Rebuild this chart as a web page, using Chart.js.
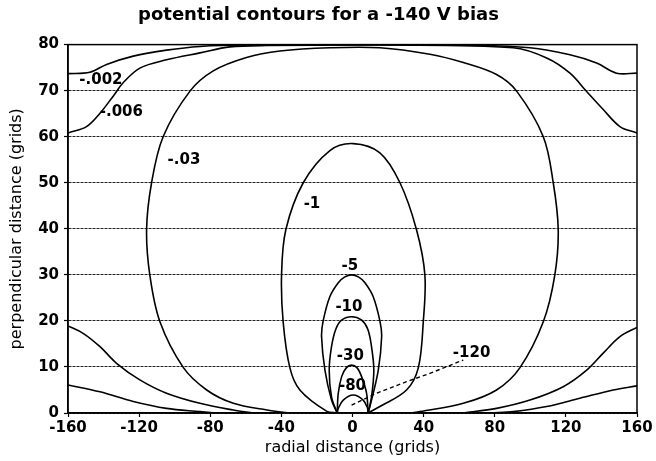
<!DOCTYPE html>
<html lang="en">
<head>
  <meta charset="UTF-8" />
  <title>potential contours for a -140 V bias</title>
  <style>
    body {
      margin: 0;
      padding: 0;
      background: #fff;
    }
    #wrap {
      width: 656px;
      height: 461px;
    }
  </style>
</head>
<body>
  <div id="wrap"><canvas id="contours" width="656" height="461"></canvas></div>

  <script src="https://cdn.jsdelivr.net/npm/chart.js"></script>
  <script>
    // contour pieces, [radial, perpendicular] in grids
    const c002Top = [[-160, 73.7], [-147.7, 74], [-138.3, 75.7], [-123.3, 77.5], [-104.6, 78.8], [-85.8, 79.6], [-60, 79.9], [60, 79.9], [99.8, 79.3], [122.3, 77.8], [137.3, 76], [148.5, 73.8], [160, 73.8]];
    const c006Top = [[-160, 60.8], [-149.6, 62.2], [-142, 65.1], [-134.6, 68.8], [-129, 71.7], [-119.6, 74.9], [-104.6, 76.7], [-85.8, 78.2], [-68.9, 79.5], [-48.3, 79.8], [20, 79.9], [90.4, 79.3], [109.2, 77.1], [122.3, 73.8], [131.7, 69.8], [141, 65.9], [150.4, 62.2], [160, 60.8]];
    const c002LowLeft = [[-160, 6.1], [-142, 4.6], [-123.3, 2.5], [-104.6, 1], [-85.8, 0.3], [-77, 0]];
    const c006LowLeft = [[-160, 18.9], [-151.5, 17.3], [-142, 14.4], [-132.7, 10.8], [-119.6, 7.2], [-104.6, 4.3], [-85.8, 2.1], [-67.1, 0.65], [-55.8, 0]];
    const c002LowRight = [[78, 0], [90.4, 0.3], [109.2, 1.4], [127.9, 3.2], [146.6, 5], [160, 5.9]];
    const c006LowRight = [[62.3, 0], [81, 1], [99.8, 2.8], [118.5, 5.7], [131.7, 9.3], [141, 13], [150.4, 16.6], [160, 18.6]];
    const c03 = [[-36, 0], [-48, 0.65], [-67, 2.1], [-82, 5], [-95.2, 9.9], [-108.3, 19.8], [-114, 30], [-115.8, 39.8], [-113, 50], [-106.5, 60], [-91.4, 69.9], [-78.3, 74.3], [-59.6, 77.2], [-40.8, 78.6], [-12.7, 79.3], [15.4, 79.3], [43.5, 77.9], [62.3, 76.1], [81, 73.5], [92.3, 69.9], [107.3, 60], [112.9, 50], [115.7, 39.8], [113.8, 30], [107.3, 19.8], [94.1, 9.8], [81, 5], [62.3, 2.1], [37.9, 0.3], [33, 0]];
    const c1 = [[-8.6, 0], [-14.6, 0.4], [-29.6, 5], [-35.2, 9.8], [-39, 19.8], [-39.9, 30], [-37.5, 39.8], [-27.7, 50], [-12.7, 57], [0.4, 58.5], [15.4, 56.5], [26.7, 50], [36, 39.8], [40.7, 30], [39.8, 19.8], [37, 9.8], [30.4, 5], [15.4, 1.4], [8.8, 0]];
    const c5 = [[-8.6, 0], [-11.8, 2.8], [-15.5, 9.3], [-17.4, 16.6], [-16.5, 20], [-12.7, 25.3], [-8, 28.3], [-4.5, 29.5], [-0.5, 30], [3.5, 29.5], [7, 28.3], [11.6, 25.3], [15.4, 20], [16.4, 16.6], [14.5, 9.3], [10.7, 2.8], [8.8, 0]];
    const c10 = [[-8.6, 0], [-11.8, 3.5], [-13.1, 9.3], [-11.8, 14.4], [-9.4, 18.2], [-6, 20.2], [-0.5, 20.9], [5, 20.2], [8.6, 18.2], [10.7, 14.4], [12, 9.3], [10.7, 3.5], [8.8, 0]];
    const c30 = [[-8.6, 0], [-8, 4.3], [-6.1, 7.9], [-3.5, 9.8], [-0.5, 10.4], [2.6, 9.8], [5.1, 7.9], [7.9, 4.3], [8.8, 0]];
    const c80 = [[-8.6, 0], [-8, 1], [-5.2, 2.8], [0.4, 3.9], [6, 2.8], [8.5, 1], [8.8, 0]];
    const c120Leader = [[-0.5, 1.7], [13.6, 4.3], [30.4, 6.8], [43.5, 8.6], [62.3, 11.5]];

    // contour value labels
    const labelText = ["-.002", "-.006", "-.03", "-1", "-5", "-10", "-30", "-80", "-120"];
    const labelX = [-141.5, -130, -94.8, -22.8, -1.5, -2, -1.2, 0, 67];
    const labelY = [72.2, 65.4, 55, 45.4, 32, 23, 12.3, 5.8, 13];

    const xTicks = [-160, -120, -80, -40, 0, 40, 80, 120, 160];
    const yTicks = [0, 10, 20, 30, 40, 50, 60, 70, 80];

    const FONT = "'DejaVu Sans', sans-serif";

    function linea(pts, dashed) {
      return {
        data: pts.map(p => ({ x: p[0], y: p[1] })),
        showLine: true,
        borderColor: "#000",
        borderWidth: dashed ? 1.4 : 1.6,
        borderDash: dashed ? [4, 3] : [],
        pointRadius: 0,
        tension: dashed ? 0 : 0.35,
        fill: false,
      };
    }

    const etiquetas = {
      id: "etiquetas",
      afterDatasetsDraw(chart) {
        const { ctx, scales } = chart;
        ctx.save();
        ctx.font = "bold 15px " + FONT;
        ctx.fillStyle = "#000";
        ctx.textAlign = "center";
        ctx.textBaseline = "middle";
        labelText.forEach((t, i) => {
          ctx.fillText(t, scales.x.getPixelForValue(labelX[i]), scales.y.getPixelForValue(labelY[i]));
        });
        // frame round the plot
        const a = chart.chartArea;
        ctx.strokeStyle = "#000";
        ctx.lineWidth = 1.5;
        ctx.strokeRect(a.left, a.top, a.right - a.left, a.bottom - a.top);
        ctx.restore();
      },
    };

    const ctx = document.getElementById("contours").getContext("2d");
    new Chart(ctx, {
      type: "scatter",
      data: {
        datasets: [
          linea(c002Top), linea(c006Top),
          linea(c002LowLeft), linea(c006LowLeft),
          linea(c002LowRight), linea(c006LowRight),
          linea(c03), linea(c1), linea(c5), linea(c10), linea(c30), linea(c80),
          linea(c120Leader, true),
        ],
      },
      options: {
        responsive: false,
        animation: false,
        layout: { padding: { top: 0, right: 19, bottom: 0, left: 0 } },
        scales: {
          x: {
            type: "linear",
            min: xTicks[0],
            max: xTicks[xTicks.length - 1],
            afterBuildTicks: s => { s.ticks = xTicks.map(v => ({ value: v })); },
            afterFit: s => { s.height = 48; },
            ticks: { color: "#000", font: { family: FONT, size: 15, weight: "bold" }, padding: 2, maxRotation: 0 },
            grid: { drawOnChartArea: false, tickLength: 4, tickColor: "#000", tickWidth: 1.2 },
            border: { color: "#000", width: 1.5 },
            title: {
              display: true,
              text: "radial distance (grids)",
              color: "#000",
              font: { family: FONT, size: 16 },
              padding: { top: 0, bottom: 4 },
            },
          },
          y: {
            type: "linear",
            min: yTicks[0],
            max: yTicks[yTicks.length - 1],
            afterBuildTicks: s => { s.ticks = yTicks.map(v => ({ value: v })); },
            afterFit: s => { s.width = 68; },
            ticks: { color: "#000", font: { family: FONT, size: 15, weight: "bold" }, padding: 5 },
            grid: { color: "#222", lineWidth: 1, tickLength: 4, tickColor: "#000", tickWidth: 1.2 },
            border: { color: "#000", width: 1.5, dash: [3, 1] },
            title: {
              display: true,
              text: "perpendicular distance (grids)",
              color: "#000",
              font: { family: FONT, size: 16 },
              padding: { top: 7, bottom: 0 },
            },
          },
        },
        plugins: {
          legend: { display: false },
          tooltip: { enabled: false },
          title: {
            display: true,
            text: "potential contours for a -140 V bias",
            color: "#000",
            font: { family: FONT, size: 18, weight: "bold", lineHeight: 1.2 },
            padding: { top: 5, bottom: 18 },
          },
        },
      },
      plugins: [etiquetas],
    });
  </script>
</body>
</html>
